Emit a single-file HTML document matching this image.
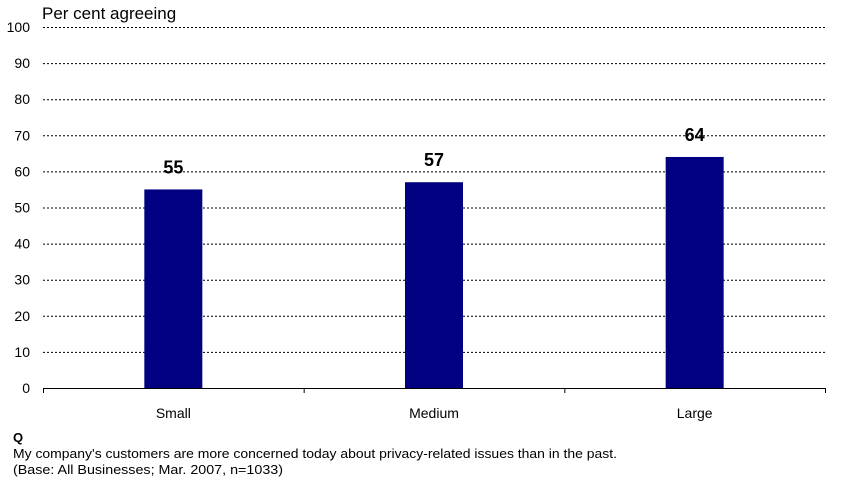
<!DOCTYPE html>
<html><head><meta charset="utf-8"><style>
body{margin:0;background:#fff;font-family:"Liberation Sans",Arial,sans-serif;}
svg{display:block}
</style></head><body>
<svg width="841" height="484" viewBox="0 0 841 484">
<g id="grid"></g><g id="bars"></g><g id="labels"></g>
<text x="42" y="19" font-size="17" fill="#000">Per cent agreeing</text>
<text x="13" y="442" font-size="13" font-weight="bold">Q</text>
<text x="13" y="458" font-size="13" textLength="604" lengthAdjust="spacingAndGlyphs">My company's customers are more concerned today about privacy-related issues than in the past.</text>
<text x="13" y="474" font-size="13" textLength="270" lengthAdjust="spacingAndGlyphs">(Base: All Businesses; Mar. 2007, n=1033)</text>
</svg>
<script>
const categories=["Small","Medium","Large"];
const values=[55,57,64];
const ticks=[0,10,20,30,40,50,60,70,80,90,100];
const NS="http://www.w3.org/2000/svg";
const x0=43,x1=825,y0=388,y1=27;
const yS=v=>y0-(v/100)*(y0-y1);
const bw=(x1-x0)/categories.length;
const xC=i=>x0+bw*(i+0.5);
const svg=document.querySelector('svg');
function mk(t,a,txt){const e=document.createElementNS(NS,t);for(const k in a)e.setAttribute(k,a[k]);if(txt!=null)e.textContent=txt;return e;}
const g=document.getElementById('grid');
ticks.forEach(t=>{
  if(t>0){const l=mk('line',{x1:x0,x2:x1,y1:yS(t)+0.5,y2:yS(t)+0.5,stroke:'#000','stroke-dasharray':'2,2','stroke-width':1});
  
  
  g.appendChild(l);}
  const tx=mk('text',{x:30,y:yS(t)+5,'font-size':14,'text-anchor':'end'},t);
  
  
  g.appendChild(tx);
});
const ax=mk('line',{x1:x0,x2:x1,y1:y0+0.5,y2:y0+0.5,stroke:'#000'});


g.appendChild(ax);
for(let i=0;i<=categories.length;i++){
  const tk=mk('line',{x1:x0+bw*i+0.5,x2:x0+bw*i+0.5,y1:y0,y2:y0+5,stroke:'#000'});
  
  
  g.appendChild(tk);
}
const b=document.getElementById('bars'),lb=document.getElementById('labels');
categories.forEach((c,i)=>{
  const r=mk('rect',{x:xC(i)-29,y:yS(values[i]),width:58,height:y0-yS(values[i]),fill:'#000080'});
  
  
  b.appendChild(r);
  const v=mk('text',{x:xC(i),y:yS(values[i])-16,'font-size':18,'font-weight':'bold','text-anchor':'middle'},values[i]);
  
  
  lb.appendChild(v);
  const t=mk('text',{x:xC(i),y:418,'font-size':14,'text-anchor':'middle'},c);
  
  
  lb.appendChild(t);
});
</script>
</body></html>
